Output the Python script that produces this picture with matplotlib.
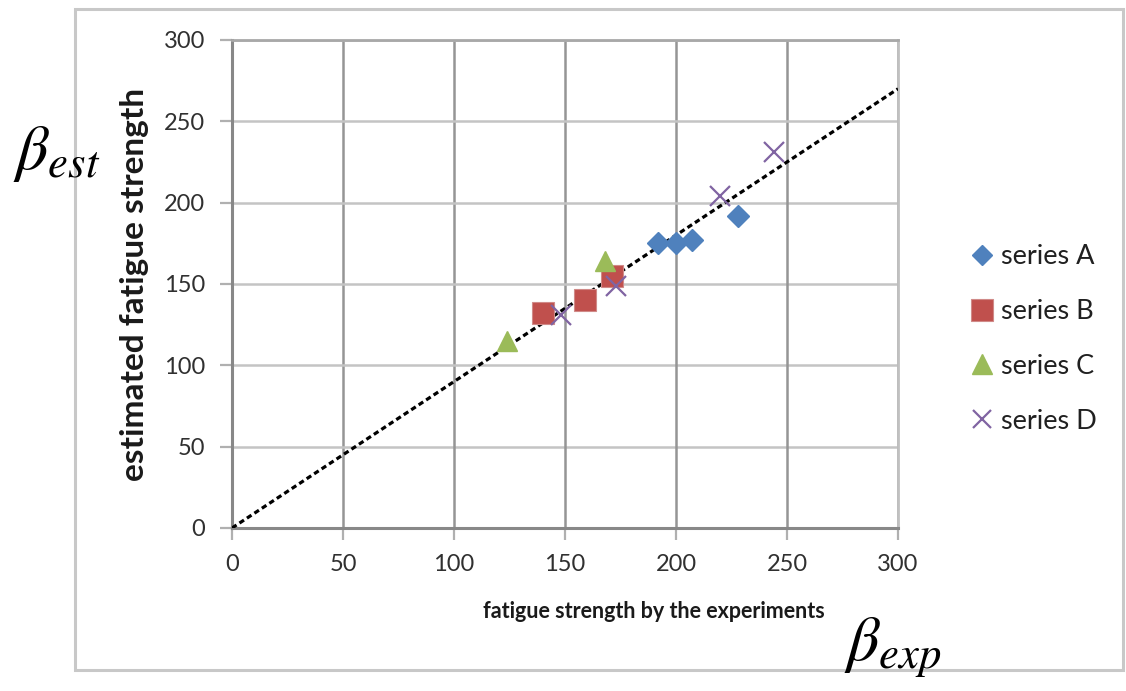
import matplotlib
matplotlib.use("Agg")
import matplotlib.pyplot as plt
from matplotlib.patches import Rectangle

plt.rcParams['font.family'] = ['Lato', 'DejaVu Sans']
plt.rcParams['mathtext.fontset'] = 'stix'

# datos medidos vs estimados
a_exp = [192, 200, 207, 228]
a_est = [175, 175, 177, 192]
b_exp = [140, 159, 171]
b_est = [132, 140, 155]
c_exp = [124, 168]
c_est = [115, 164]
d_exp = [148, 173, 220, 244]
d_est = [131, 149, 204, 231]

# recta de ajuste
fit_x = [0, 300]
fit_y = [0, 270]

ticks = [0, 50, 100, 150, 200, 250, 300]

fig = plt.figure(figsize=(11.26, 6.91), dpi=100)
ax = fig.add_axes([232/1126, 1-528/691, 666/1126, 488/691])

# marco exterior del grafico
fig.patches.append(Rectangle((75/1126, 1-670/691), 1048/1126, 661/691,
                             transform=fig.transFigure, fill=False,
                             edgecolor='#c8c8c8', lw=2.2, zorder=0))

ax.plot(fit_x, fit_y, color='black', lw=2.3, linestyle=(0, (1.7, 1.1)), zorder=3)

ax.plot(a_exp, a_est, 'D', color='#4F81BD', ms=11, mec='#4F81BD', label='series A', zorder=4)
ax.plot(b_exp, b_est, 's', color='#C0504D', ms=16, mec='#D08a88', mew=0.8, label='series B', zorder=4)
ax.plot(c_exp, c_est, '^', color='#9BBB59', ms=15, mec='#9BBB59', label='series C', zorder=4)
ax.plot(d_exp, d_est, 'x', color='#8064A2', ms=14, mew=1.6, label='series D', zorder=5)

ax.set_xlim(0, 300)
ax.set_ylim(0, 300)
ax.set_xticks(ticks)
ax.set_yticks(ticks)

ax.grid(False)
for t in ticks[1:]:
    ax.axvline(t, color='#959595', lw=1.8, zorder=1)
    ax.axhline(t, color='#c4c4c4', lw=1.8, zorder=1)

for s in ['left', 'bottom']:
    ax.spines[s].set_color('#888888')
    ax.spines[s].set_linewidth(2.2)
ax.spines['top'].set_color('#a8a8a8')
ax.spines['top'].set_linewidth(2.0)
ax.spines['right'].set_color('#c0c0c0')
ax.spines['right'].set_linewidth(2.0)

ax.tick_params(axis='both', direction='out', length=8.5, width=1.6,
               color='#b0b0b0', labelsize=17, labelcolor='#303030')
ax.tick_params(axis='x', pad=10)
ax.tick_params(axis='y', pad=11)

ax.set_xlabel('fatigue strength by the experiments', fontsize=15.5, fontweight='bold', color='#1a1a1a')
ax.xaxis.set_label_coords(0.634, -0.172)
ax.xaxis.label.set_verticalalignment('center')
ax.set_ylabel('estimated fatigue strength', fontsize=24, fontweight='bold', color='#1a1a1a')
ax.yaxis.set_label_coords(-0.146, 0.5)
ax.yaxis.label.set_verticalalignment('center')

leg = ax.legend(loc='center left', bbox_to_anchor=(958/1126, 1-339/691),
                bbox_transform=fig.transFigure, frameon=False, fontsize=19.5,
                handlelength=0.8, handletextpad=0.3, labelspacing=1.1,
                borderpad=0, markerscale=0.95)
for t in leg.get_texts():
    t.set_color('#202020')

fig.text(13/1126, 1-124/691, r'$\beta_{est}$', fontsize=46, ha='left', va='top', zorder=10)
fig.text(844/1126, 1-616/691, r'$\beta_{exp}$', fontsize=46, ha='left', va='top', zorder=10)

fig.savefig('out.png', dpi=100, facecolor='white')
